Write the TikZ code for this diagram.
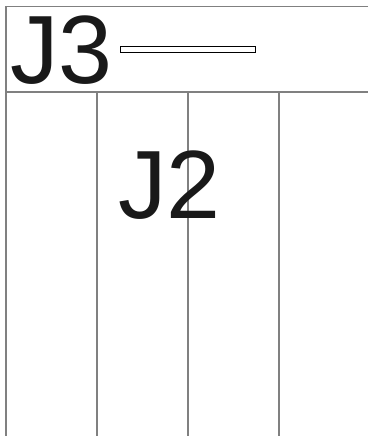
\documentclass[tikz,border=0pt]{standalone}
\usepackage{fontspec}
\setmainfont{Liberation Sans}
\begin{document}
\begin{tikzpicture}[x=1pt,y=-1pt,
  gridline/.style={draw=black!50,line width=1.6pt},
  bigtext/.style={inner sep=0pt,anchor=base west,text=black!90,font=\fontsize{97}{97}\selectfont}]
\useasboundingbox[fill=white] (0,0) rectangle (368,436);
\draw[gridline] (368,6.7) -- (5.7,6.7) -- (5.7,436);
\draw[gridline] (5.7,91.7) -- (368,91.7);
\foreach \x in {96.7,187.7,278.7} \draw[gridline] (\x,91.7) -- (\x,436);
\node[bigtext] (j3) at (10,83) {J3};
\draw[fill=white,draw=black,line width=0.8pt] (120.5,46) rectangle (255,52.5);
\node[bigtext] (j2) at (118,218) {J2};
\end{tikzpicture}
\end{document}
